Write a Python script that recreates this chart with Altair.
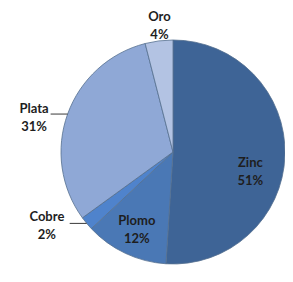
import math
import altair as alt
import pandas as pd

# data
categories = ["Zinc", "Plomo", "Cobre", "Plata", "Oro"]
values = [51, 12, 2, 31, 4]
pct_labels = ["51%", "12%", "2%", "31%", "4%"]

# styles
colors = ["#3E6496", "#4A78B5", "#4F83CC", "#8FA8D6", "#B3C3E3"]
label_angle_pct = [29.1, 56.9, 66.6, 78.8, 98.3]   # label anchor angle (percent of circle)
label_radius = [80, 86, 146, 143, 127]
leader_for = ["Cobre", "Plata"]

R = 112
W = H = 224
cx, cy = W / 2, H / 2

pie_df = pd.DataFrame({"cat": categories, "value": values, "order": list(range(len(categories)))})
lab_df = pd.DataFrame({
    "cat": categories,
    "text": [f"{c}\n{p}" for c, p in zip(categories, pct_labels)],
    "ang": label_angle_pct,
    "r": label_radius,
})

# leader lines from the slice mid angle on the rim, going left
total = sum(values)
cum = 0
rows = []
for c, v in zip(categories, values):
    mid = (cum + v / 2) / total * 2 * math.pi
    cum += v
    if c in leader_for:
        px = cx + R * math.sin(mid)
        py = cy - R * math.cos(mid)
        rows.append({"x": px - 17, "y": py, "x2": px, "y2": py})
lead_df = pd.DataFrame(rows)

color_scale = alt.Scale(domain=categories, range=colors)

pie = alt.Chart(pie_df).mark_arc(outerRadius=R, stroke="#56708F", strokeWidth=0.8).encode(
    theta=alt.Theta("value:Q", stack=True, scale=alt.Scale(domain=[0, 100])),
    color=alt.Color("cat:N", scale=color_scale, legend=None),
    order=alt.Order("order:Q"),
)

labels = alt.Chart(lab_df).mark_text(
    font="Lato", fontSize=13, fontWeight="bold", color="#1E1E1E",
    lineBreak="\n", lineHeight=18, align="center", baseline="middle", dy=-9,
).encode(
    theta=alt.Theta("ang:Q", stack=None, scale=alt.Scale(domain=[0, 100])),
    radius=alt.Radius("r:Q", scale=None),
    text="text:N",
)

leaders = alt.Chart(lead_df).mark_rule(color="#3A3A3A", strokeWidth=1).encode(
    x=alt.X("x:Q", scale=None),
    y=alt.Y("y:Q", scale=None),
    x2="x2:Q",
    y2="y2:Q",
)

chart = alt.layer(pie, leaders, labels).resolve_scale(theta="independent").properties(
    width=W, height=H,
    padding={"left": 53, "top": 32, "right": 0, "bottom": 10},
    autosize="none",
).configure(background="white").configure_view(stroke=None, strokeWidth=0)

chart.save("out.html", embed_options={"renderer": "svg", "actions": False})
